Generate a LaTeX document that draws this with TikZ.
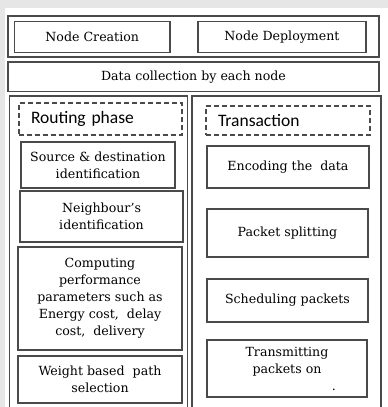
\documentclass[tikz,border=0pt]{standalone}
\usepackage{fontspec}
\setmainfont{DejaVu Serif}
\newfontfamily\phasefont{Carlito}

\definecolor{edge}{HTML}{4A4A4A}
\definecolor{backgr}{HTML}{E6E6E6}

\tikzset{
  stagebox/.style={draw=edge, line width=1.3pt, fill=white, inner sep=0pt,
    align=center, font=\fontsize{12.6}{17}\selectfont},
  phasebox/.style={draw=edge, line width=1.3pt, dash pattern=on 5pt off 3pt,
    inner xsep=12pt, inner ysep=0pt, align=left,
    font=\fontsize{17.5}{20}\phasefont},
  panel/.style={draw=edge, line width=1.3pt}
}

\begin{document}
\begin{tikzpicture}[x=1pt,y=-1pt]
            \clip (0,0) rectangle (388,407);
            \fill[backgr] (0,0) rectangle (388,407);
            \fill[white] (5,8) rectangle (388,407);

            % first row
            \node [stagebox, minimum width=371pt, minimum height=41pt] (toprow) at (193.5,36.5) {};
            \node [stagebox, minimum width=155.5pt, minimum height=31pt] (crt) at (92.25,37) {Node Creation};
            \node [stagebox, minimum width=168pt, minimum height=31pt] (dep) at (282,37) {Node Deployment};

            % second row
            \node [stagebox, minimum width=371pt, minimum height=29.5pt] (coll) at (193.5,76.75) {Data collection by each node};

            % panels
            \draw [panel] (9.5,415) |- (187.5,96) -- (187.5,415); % routing
            \draw [panel] (192,415) |- (381,96) -- (381,415);     % transaction

            % routing side
            \node [phasebox, text width=139pt, minimum height=32pt] (rout) at (100.5,119) {Routing phase};
            \node [stagebox, minimum width=154pt, minimum height=46pt] (src) at (98,165) {Source \& destination\\identification};
            \node [stagebox, minimum width=163pt, minimum height=51pt] (nbr) at (101.5,216.5) {Neighbour's\\identification};
            \node [stagebox, minimum width=164pt, minimum height=103pt] (cmp) at (100,298.5) {Computing\\performance\\parameters such as\\Energy cost,\ \ delay\\cost,\ \ delivery};
            \node [stagebox, minimum width=164pt, minimum height=47pt] (wgt) at (100,379.5) {Weight based\ \ path\\selection};

            % transaction side
            \node [phasebox, text width=140pt, minimum height=29pt] (trans) at (288,120.5) {Transaction};
            \node [stagebox, minimum width=162pt, minimum height=42pt] (enc) at (288,167) {Encoding the\ \ data};
            \node [stagebox, minimum width=161pt, minimum height=48pt] (spl) at (287.5,233) {Packet splitting};
            \node [stagebox, minimum width=161pt, minimum height=43pt] (sch) at (287.5,300.5) {Scheduling\ packets};
            \node [stagebox, minimum width=160pt, minimum height=57pt] (trn) at (287,368.5) {Transmitting\\packets on\\\hspace*{94pt}.};
        \end{tikzpicture}
\end{document}
